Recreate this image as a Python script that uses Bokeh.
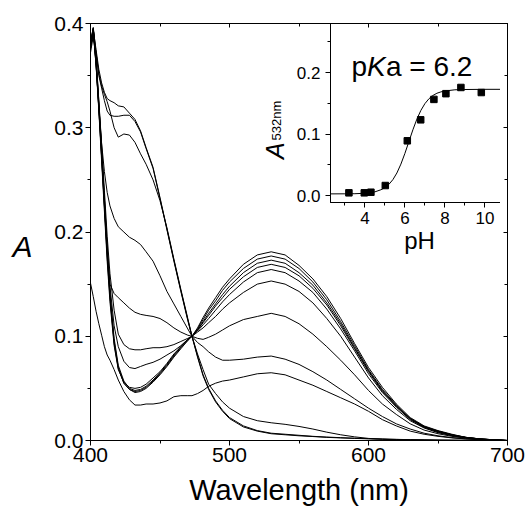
from bokeh.plotting import figure
from bokeh.models import Range1d, LinearAxis, Label, SingleIntervalTicker, PrintfTickFormatter
from bokeh.layouts import column
from bokeh.embed import file_html
from bokeh.resources import INLINE

FONT = "Liberation Sans"

# ---------------- data: absorption spectra (main panel) ----------------
wavelength = [400, 402, 404, 406, 408, 410, 412, 414,
              417, 420, 424, 428, 432, 436, 440,
              445, 450, 455, 460, 465, 470, 473,
              477, 481, 485, 490, 495, 500,
              510, 520, 530, 540, 550, 560, 570, 580, 590, 600,
              610, 620, 630, 640, 650, 660, 670, 680, 690, 700]

spectrum_1 = [.380, .395, .365, .322, .276, .228, .180, .140,
              .095, .070, .055, .049, .046, .047, .050,
              .056, .063, .071, .080, .088, .096, .100,
              .108, .118, .127, .137, .147, .155,
              .169, .178, .181, .178, .168, .155, .138, .117, .093, .070,
              .051, .035, .022, .014, .0095, .006, .003, .0015, .0007, 0.0]
spectrum_2 = [.378, .393, .362, .318, .272, .224, .176, .137,
              .093, .069, .055, .049, .047, .048, .051,
              .057, .064, .072, .081, .089, .096, .100,
              .107, .116, .125, .134, .144, .152,
              .165, .174, .177, .174, .165, .152, .135, .114, .091, .068,
              .049, .034, .021, .0135, .009, .0055, .003, .0015, .0007, 0.0]
spectrum_3 = [.382, .396, .368, .325, .280, .232, .184, .143,
              .098, .072, .057, .050, .048, .049, .052,
              .058, .065, .073, .082, .090, .097, .100,
              .106, .114, .122, .131, .140, .148,
              .161, .170, .173, .170, .161, .149, .132, .112, .089, .067,
              .048, .033, .021, .013, .009, .0055, .003, .0015, .0007, 0.0]
spectrum_4 = [.376, .392, .360, .316, .268, .220, .172, .133,
              .091, .068, .056, .051, .050, .051, .054,
              .060, .066, .074, .083, .090, .097, .100,
              .106, .113, .120, .129, .137, .145,
              .157, .166, .169, .166, .158, .146, .130, .110, .088, .066,
              .047, .033, .021, .013, .0085, .005, .003, .0015, .0007, 0.0]
spectrum_5 = [.378, .394, .364, .322, .278, .232, .186, .148,
              .110, .090, .076, .070, .069, .071, .073,
              .075, .078, .082, .086, .091, .097, .100,
              .105, .111, .117, .125, .133, .140,
              .152, .161, .164, .161, .153, .142, .126, .107, .086, .064,
              .046, .032, .020, .0125, .008, .005, .0028, .0014, .0006, 0.0]
spectrum_6 = [.380, .395, .366, .326, .284, .240, .196, .160,
              .125, .102, .092, .088, .087, .087, .088,
              .089, .089, .090, .092, .095, .098, .100,
              .104, .108, .113, .119, .126, .132,
              .142, .150, .153, .150, .143, .132, .117, .100, .080, .060,
              .043, .030, .019, .012, .0075, .0045, .0025, .0013, .0006, 0.0]
spectrum_7 = [.378, .393, .362, .318, .272, .226, .182, .150,
              .141, .137, .132, .127, .123, .121, .120,
              .119, .117, .113, .108, .104, .101, .100,
              .098, .097, .099, .102, .106, .110,
              .116, .119, .122, .119, .112, .102, .090, .077, .063, .048,
              .035, .025, .016, .010, .0065, .004, .0022, .0011, .0005, 0.0]
spectrum_8 = [.376, .392, .360, .320, .285, .258, .238, .225,
              .213, .205, .200, .195, .192, .188, .181,
              .172, .158, .143, .131, .119, .107, .100,
              .094, .090, .085, .080, .077, .077,
              .078, .080, .081, .078, .073, .066, .058, .049, .040, .031,
              .023, .016, .011, .007, .0045, .0028, .0016, .0008, .0003, 0.0]
spectrum_9 = [.151, .138, .124, .112, .101, .090, .082, .077,
              .068, .058, .047, .039, .034, .034, .035,
              .035, .036, .038, .042, .043, .043, .043,
              .045, .048, .052, .055, .057, .058,
              .061, .064, .065, .063, .058, .053, .047, .041, .035, .028,
              .020, .014, .009, .006, .004, .0025, .0015, .0008, .0003, 0.0]
spectrum_10 = [.372, .388, .372, .352, .340, .332, .325, .316,
               .300, .291, .294, .293, .286, .275, .265,
               .250, .230, .204, .174, .145, .117, .100,
               .083, .068, .054, .045, .037, .031,
               .023, .019, .017, .0155, .0135, .011, .008, .0055, .0035, .002,
               .0012, .0007, .0004, .0002, .0001, 0.0, 0.0, 0.0, 0.0, 0.0]
spectrum_11 = [.378, .394, .375, .356, .343, .334, .328, .326,
               .324, .321, .320, .314, .308, .297, .281,
               .262, .233, .203, .173, .144, .116, .100,
               .080, .062, .049, .037, .028, .021,
               .013, .009, .0065, .0055, .0045, .0038, .003, .0025, .002, .0016,
               .0013, .001, .0008, .0006, .0004, .0003, .0002, .0001, 0.0, 0.0]
spectrum_12 = [.382, .396, .372, .350, .338, .326, .316, .312,
               .311, .311, .312, .312, .306, .296, .280,
               .261, .232, .202, .172, .143, .115, .100,
               .081, .063, .050, .038, .029, .022,
               .014, .0095, .007, .006, .005, .004, .0033, .0027, .0022, .0018,
               .0014, .0011, .0008, .0006, .0004, .0003, .0002, .0001, 0.0, 0.0]

spectra = [spectrum_1, spectrum_2, spectrum_3, spectrum_4, spectrum_5, spectrum_6,
           spectrum_7, spectrum_8, spectrum_9, spectrum_10, spectrum_11, spectrum_12]

# ---------------- data: titration inset ----------------
ph_points = [3.2, 3.97, 4.3, 5.02, 6.12, 6.79, 7.45, 8.05, 8.8, 9.82]
a532_points = [0.0047, 0.0047, 0.0057, 0.0166, 0.0893, 0.1234, 0.1566, 0.1659, 0.176, 0.1678]

fit_ph = [2.28, 3.0, 3.5, 4.0, 4.5, 4.8, 5.0, 5.2, 5.4, 5.6, 5.8, 6.0, 6.2, 6.4,
          6.6, 6.8, 7.0, 7.2, 7.4, 7.6, 7.8, 8.0, 8.5, 9.0, 10.0, 11.18]
fit_a532 = [0.003, 0.0031, 0.0033, 0.004, 0.0063, 0.0097, 0.0131, 0.0185, 0.0262, 0.037,
            0.0514, 0.0688, 0.088, 0.1072, 0.1246, 0.1388, 0.1497, 0.1576, 0.163, 0.1666,
            0.1688, 0.1703, 0.1722, 0.1727, 0.173, 0.173]


def plain_axis(ticker):
    """Frame-side axis with inward ticks and no labels."""
    return LinearAxis(ticker=ticker,
                      major_tick_in=4, major_tick_out=0, minor_tick_in=3, minor_tick_out=0,
                      major_label_text_alpha=0, major_label_text_color=None,
                      major_label_standoff=0, axis_line_color="black")


# ---------------- main figure ----------------
p = figure(frame_width=417, frame_height=417,
           x_range=Range1d(400, 700), y_range=Range1d(0, 0.4),
           output_backend="svg", toolbar_location=None,
           min_border_left=90, min_border_top=23, min_border_right=19, min_border_bottom=60,
           background_fill_color="white", border_fill_color="white")
p.grid.visible = False
p.outline_line_color = "black"

for s in spectra:
    p.line(wavelength, s, line_color="black", line_width=1)

p.xaxis.ticker = SingleIntervalTicker(interval=100, num_minor_ticks=2)
p.yaxis.ticker = SingleIntervalTicker(interval=0.1, num_minor_ticks=2)
p.yaxis.formatter = PrintfTickFormatter(format="%.1f")

for ax in (p.xaxis[0], p.yaxis[0]):
    ax.major_tick_out = 5
    ax.major_tick_in = 0
    ax.minor_tick_out = 3
    ax.minor_tick_in = 0
    ax.axis_line_color = "black"
    ax.major_label_text_font = FONT
    ax.major_label_text_font_size = "21px"
    ax.major_label_text_color = "black"
    ax.major_label_standoff = 2

p.xaxis.axis_label = "Wavelength (nm)"
p.xaxis.axis_label_text_font = FONT
p.xaxis.axis_label_text_font_size = "29px"
p.xaxis.axis_label_text_font_style = "normal"
p.xaxis.axis_label_text_color = "black"
p.xaxis.axis_label_standoff = 9

p.add_layout(plain_axis(SingleIntervalTicker(interval=100, num_minor_ticks=2)), "above")
p.add_layout(plain_axis(SingleIntervalTicker(interval=0.1, num_minor_ticks=2)), "right")

# y label "A" (upright italic) placed in the left side panel so it is not clipped
p.add_layout(Label(x=343.9, y=0.1865, text="A",
                   text_font=FONT, text_font_size="30px", text_font_style="italic",
                   text_color="black", text_baseline="alphabetic"), "left")

# inset y label A_532nm: drawn by the main figure (inside its frame, left of the inset)
p.add_layout(Label(x=532.7, y=0.270, text="A", angle=1.5708, text_font=FONT,
                   text_font_size="25px", text_font_style="italic", text_color="black",
                   text_baseline="alphabetic", text_align="left"))
p.add_layout(Label(x=534.0, y=0.2878, text="532nm", angle=1.5708, text_font=FONT,
                   text_font_size="13px", text_color="black",
                   text_baseline="alphabetic", text_align="left"))

# ---------------- inset figure ----------------
ins = figure(frame_width=178, frame_height=179,
             x_range=Range1d(2.28, 11.18), y_range=Range1d(-0.011, 0.28),
             output_backend="svg", toolbar_location=None,
             min_border_left=70, min_border_top=10, min_border_right=12, min_border_bottom=60,
             background_fill_alpha=0, border_fill_alpha=0)
ins.styles = {"position": "absolute", "left": "240px", "top": "13px"}
ins.grid.visible = False
ins.outline_line_color = "black"

ins.line(fit_ph, fit_a532, line_color="black", line_width=1)
ins.scatter(ph_points, a532_points, marker="square", size=6.5, color="black")

ins.xaxis.ticker = SingleIntervalTicker(interval=2, num_minor_ticks=2)
ins.yaxis.ticker = SingleIntervalTicker(interval=0.1, num_minor_ticks=2)
ins.yaxis.formatter = PrintfTickFormatter(format="%.1f")
for ax in (ins.xaxis[0], ins.yaxis[0]):
    ax.major_tick_out = 5
    ax.major_tick_in = 0
    ax.minor_tick_out = 3
    ax.minor_tick_in = 0
    ax.axis_line_color = "black"
    ax.major_label_text_font = FONT
    ax.major_label_text_font_size = "17px"
    ax.major_label_text_color = "black"
ins.yaxis.major_label_standoff = 5
ins.xaxis.major_label_standoff = 4

ins.xaxis.axis_label = "pH"
ins.xaxis.axis_label_text_font = FONT
ins.xaxis.axis_label_text_font_size = "24px"
ins.xaxis.axis_label_text_font_style = "normal"
ins.xaxis.axis_label_text_color = "black"
ins.xaxis.axis_label_standoff = 0

ins.add_layout(plain_axis(SingleIntervalTicker(interval=0.1, num_minor_ticks=2)), "right")

# pKa annotation
ins.add_layout(Label(x=3.33, y=0.210, text="p", text_font=FONT, text_font_size="28px",
                     text_color="black", text_baseline="alphabetic"))
ins.add_layout(Label(x=4.11, y=0.210, text="K", text_font=FONT, text_font_size="28px",
                     text_font_style="italic", text_color="black", text_baseline="alphabetic"))
ins.add_layout(Label(x=5.05, y=0.210, text="a = 6.2", text_font=FONT, text_font_size="28px",
                     text_color="black", text_baseline="alphabetic"))

layout = column(p, ins)
open("out.html", "w").write(file_html(layout, INLINE))
